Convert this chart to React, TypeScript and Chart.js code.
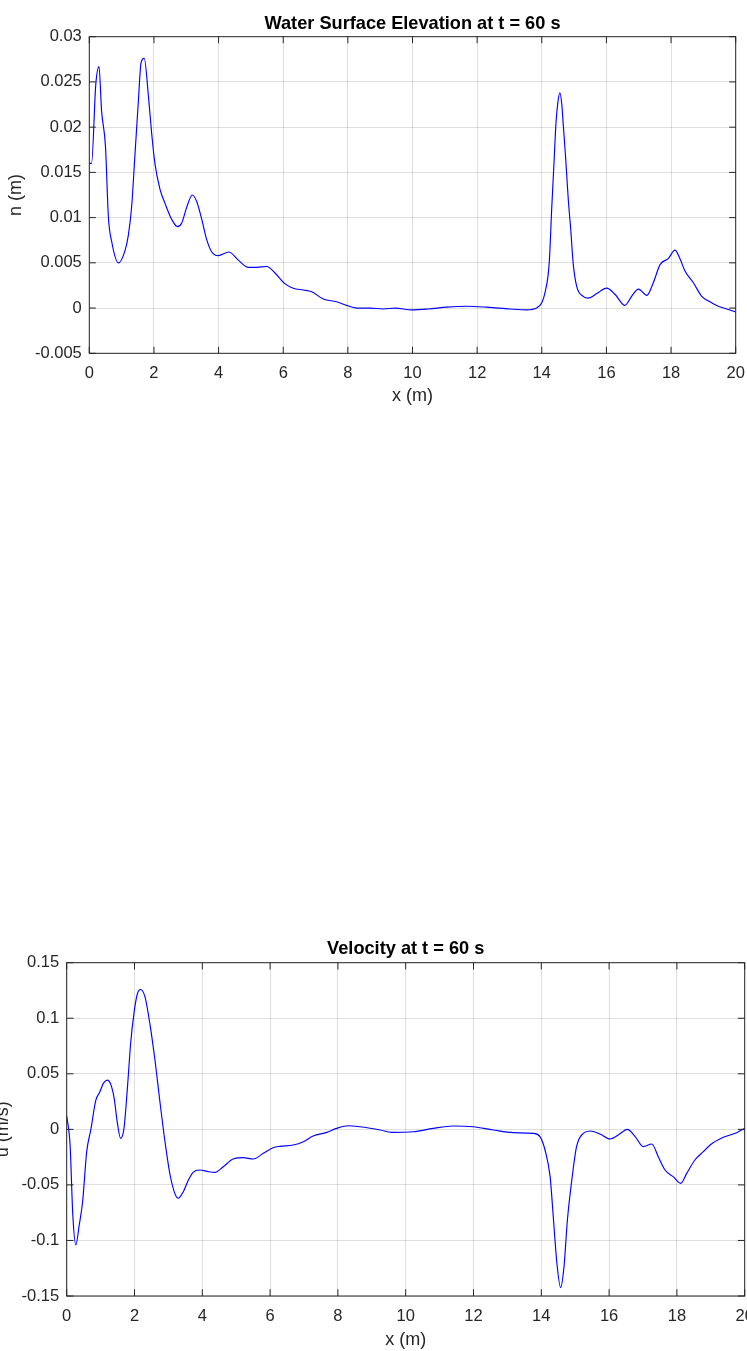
import React, { useEffect, useRef } from "react";
import { Chart, registerables } from "chart.js";

Chart.register(...registerables);

// ---------- data ----------
const X_TICKS = [0, 2, 4, 6, 8, 10, 12, 14, 16, 18, 20];
const ETA_Y_TICKS = [-0.005, 0, 0.005, 0.01, 0.015, 0.02, 0.025, 0.03];
const U_Y_TICKS = [-0.15, -0.1, -0.05, 0, 0.05, 0.1, 0.15];

const ETA_TITLE = "Water Surface Elevation at t = 60 s";
const U_TITLE = "Velocity at t = 60 s";
const X_LABEL = "x (m)";
const ETA_LABEL = "n (m)";
const U_LABEL = "u (m/s)";

const ETA_X = [
  0, 0.07, 0.2, 0.3, 0.38, 0.5, 0.59, 0.69, 0.9, 1.1, 1.21, 1.31, 1.41, 1.52, 1.6, 1.7,
  1.83, 1.93, 2.03, 2.19, 2.34, 2.55, 2.73, 2.86, 3.01, 3.19, 3.32, 3.48, 3.63, 3.79,
  3.99, 4.32, 4.61, 4.92, 5.18, 5.49, 5.74, 6.05, 6.31, 6.62, 6.88, 7.24, 7.65, 7.96,
  8.27, 8.69, 9.1, 9.46, 9.97, 10.49, 11.06, 11.68, 12.3, 13.02, 13.53, 13.84, 14.0,
  14.1, 14.23, 14.31, 14.38, 14.44, 14.5, 14.56, 14.62, 14.66, 14.74, 14.82, 14.9, 14.97,
  15.08, 15.28, 15.44, 15.7, 16.01, 16.27, 16.57, 16.78, 16.99, 17.25, 17.45, 17.66,
  17.92, 18.12, 18.27, 18.43, 18.69, 18.95, 19.2, 19.46, 19.72, 20,
];
const ETA_Y = [
  0.016, 0.016, 0.0247, 0.0267, 0.0218, 0.0179, 0.0101, 0.0074, 0.005, 0.0063, 0.0081,
  0.0112, 0.0168, 0.023, 0.0271, 0.0276, 0.0234, 0.0193, 0.016, 0.0131, 0.0116, 0.0098,
  0.009, 0.0094, 0.0111, 0.0125, 0.0118, 0.0098, 0.0076, 0.0062, 0.0058, 0.0062, 0.0053,
  0.0045, 0.0045, 0.0046, 0.0039, 0.0027, 0.0022, 0.002, 0.0018, 0.001, 0.0007, 0.0003,
  0.0, 0.0, -0.0001, 0.0, -0.0002, -0.0001, 0.0001, 0.0002, 0.0001, -0.0001, -0.0002,
  0.0, 0.0006, 0.0017, 0.005, 0.0112, 0.0162, 0.0205, 0.0228, 0.0238, 0.0225, 0.0205,
  0.0165, 0.012, 0.0085, 0.005, 0.0024, 0.0013, 0.0011, 0.0016, 0.0022, 0.0015, 0.0003,
  0.0013, 0.0021, 0.0014, 0.0028, 0.0048, 0.0055, 0.0064, 0.0055, 0.0041, 0.0028, 0.0013,
  0.0007, 0.0002, -0.0001, -0.00045,
];

const U_X = [
  0, 0.1, 0.18, 0.27, 0.37, 0.47, 0.59, 0.71, 0.86, 0.98, 1.08, 1.2, 1.3, 1.4, 1.49, 1.59,
  1.69, 1.79, 1.89, 1.99, 2.08, 2.18, 2.31, 2.46, 2.61, 2.75, 2.9, 3.05, 3.2, 3.29, 3.44,
  3.59, 3.73, 3.93, 4.18, 4.37, 4.62, 4.91, 5.21, 5.5, 5.8, 6.09, 6.29, 6.68, 6.98, 7.27,
  7.67, 7.96, 8.31, 8.65, 8.95, 9.25, 9.59, 10.22, 10.81, 11.4, 11.99, 12.58, 13.17,
  13.76, 13.96, 14.11, 14.26, 14.36, 14.46, 14.57, 14.67, 14.77, 14.9, 15.04, 15.24,
  15.44, 15.73, 16.03, 16.27, 16.54, 16.77, 17.01, 17.26, 17.45, 17.65, 17.89, 18.11,
  18.29, 18.53, 18.78, 18.98, 19.37, 19.76, 20,
];
const U_Y = [
  0.0122, -0.0141, -0.077, -0.104, -0.086, -0.065, -0.02, -0.0006, 0.0263, 0.0338, 0.0414,
  0.0443, 0.0405, 0.0279, 0.0068, -0.0081, 0.0009, 0.0369, 0.0788, 0.1058, 0.1214, 0.1259,
  0.1192, 0.0938, 0.0608, 0.0248, -0.0112, -0.0411, -0.0585, -0.062, -0.0561, -0.0456,
  -0.0387, -0.0366, -0.0381, -0.0387, -0.0336, -0.0267, -0.0255, -0.0267, -0.0216,
  -0.0165, -0.0153, -0.0141, -0.0111, -0.006, -0.0027, 0.0009, 0.0032, 0.0023, 0.001,
  -0.0006, -0.0027, -0.0022, 0.0009, 0.003, 0.0023, -0.0006, -0.003, -0.0036, -0.0066,
  -0.0186, -0.0426, -0.0816, -0.1205, -0.1424, -0.1236, -0.0816, -0.0456, -0.0156,
  -0.0036, -0.0015, -0.0042, -0.0087, -0.0051, 0.0, -0.0066, -0.0156, -0.0132, -0.0246,
  -0.0366, -0.0426, -0.0486, -0.0396, -0.0276, -0.0201, -0.0141, -0.0072, -0.003, 0.001,
];

// ---------- styling ----------
const FONT = '"Liberation Sans", Arial, Helvetica, sans-serif';
const AXIS_COLOR = "#262626";
const GRID_COLOR = "rgba(38,38,38,0.15)";
const LINE_COLOR = "#0000ff";

function fmt(v: number) {
  return String(parseFloat(Number(v).toFixed(6)));
}

function makeBoxPlugin(len: number) {
  return {
    id: "boxTicks",
    afterDraw(chart: any) {
      const { ctx, chartArea: a, scales } = chart;
      ctx.save();
      ctx.strokeStyle = AXIS_COLOR;
      ctx.lineWidth = 1;
      ctx.beginPath();
      scales.x.ticks.forEach((t: any) => {
        const px = scales.x.getPixelForValue(t.value);
        ctx.moveTo(px, a.bottom);
        ctx.lineTo(px, a.bottom - len);
        ctx.moveTo(px, a.top);
        ctx.lineTo(px, a.top + len);
      });
      scales.y.ticks.forEach((t: any) => {
        const py = scales.y.getPixelForValue(t.value);
        ctx.moveTo(a.left, py);
        ctx.lineTo(a.left + len, py);
        ctx.moveTo(a.right, py);
        ctx.lineTo(a.right - len, py);
      });
      ctx.stroke();
      ctx.strokeRect(a.left, a.top, a.right - a.left, a.bottom - a.top);
      ctx.restore();
    },
  };
}

type PlotProps = {
  left: number;
  top: number;
  width: number;
  height: number;
  xs: number[];
  ys: number[];
  yTicks: number[];
  title: string;
  yLabel: string;
  yAxisWidth: number;
  xAxisHeight: number;
  padRight: number;
  titlePadTop: number;
  titlePadBottom: number;
  yTitlePad: number;
  xTitlePadBottom: number;
  tickLen: number;
};

function Plot(p: PlotProps) {
  const ref = useRef<HTMLCanvasElement | null>(null);
  useEffect(() => {
    if (!ref.current) return;
    const data = p.xs.map((x, i) => ({ x, y: p.ys[i] }));
    const chart = new Chart(ref.current, {
      type: "line",
      data: {
        datasets: [
          {
            data,
            borderColor: LINE_COLOR,
            borderWidth: 1.15,
            pointRadius: 0,
            fill: false,
            cubicInterpolationMode: "monotone",
          },
        ],
      },
      options: {
        responsive: false,
        animation: false,
        devicePixelRatio: 1,
        layout: { padding: { left: 0, top: 0, right: p.padRight, bottom: 0 } },
        plugins: {
          legend: { display: false },
          tooltip: { enabled: false },
          title: {
            display: true,
            fullSize: false,
            text: p.title,
            color: "#000000",
            font: { family: FONT, size: 18.2, weight: "bold", lineHeight: 1.2 },
            padding: { top: p.titlePadTop, bottom: p.titlePadBottom },
          },
        },
        scales: {
          x: {
            type: "linear",
            min: X_TICKS[0],
            max: X_TICKS[X_TICKS.length - 1],
            afterBuildTicks: (s: any) => {
              s.ticks = X_TICKS.map((v) => ({ value: v }));
            },
            afterFit: (s: any) => {
              s.height = p.xAxisHeight;
            },
            ticks: {
              color: AXIS_COLOR,
              font: { family: FONT, size: 16.5, lineHeight: "40px" },
              padding: 0,
              maxRotation: 0,
              autoSkip: false,
              callback: (v: any) => fmt(v),
            },
            grid: { color: GRID_COLOR, lineWidth: 1, drawTicks: false },
            border: { display: false },
            title: {
              display: true,
              text: X_LABEL,
              color: AXIS_COLOR,
              font: { family: FONT, size: 18, lineHeight: 1.2 },
              padding: { top: 0, bottom: p.xTitlePadBottom },
            },
          },
          y: {
            type: "linear",
            min: p.yTicks[0],
            max: p.yTicks[p.yTicks.length - 1],
            afterBuildTicks: (s: any) => {
              s.ticks = p.yTicks.map((v) => ({ value: v }));
            },
            afterFit: (s: any) => {
              s.width = p.yAxisWidth;
            },
            ticks: {
              color: AXIS_COLOR,
              font: { family: FONT, size: 16.5, lineHeight: 1.2 },
              padding: 7.5,
              autoSkip: false,
              callback: (v: any) => fmt(v),
            },
            grid: { color: GRID_COLOR, lineWidth: 1, drawTicks: false },
            border: { display: false },
            title: {
              display: true,
              text: p.yLabel,
              color: AXIS_COLOR,
              font: { family: FONT, size: 18, lineHeight: 1.2 },
              padding: { top: p.yTitlePad, bottom: 0 },
            },
          },
        },
      },
      plugins: [makeBoxPlugin(p.tickLen)],
    } as any);
    return () => chart.destroy();
  }, []);
  return (
    <canvas
      ref={ref}
      width={p.width}
      height={p.height}
      style={{
        position: "absolute",
        left: p.left,
        top: p.top,
        width: p.width,
        height: p.height,
      }}
    />
  );
}

export default function App() {
  return (
    <div
      style={{
        position: "absolute",
        left: 0,
        top: 0,
        width: 747,
        height: 1351,
        overflow: "hidden",
        background: "#ffffff",
      }}
    >
      <Plot
        left={0}
        top={0}
        width={747}
        height={420}
        xs={ETA_X}
        ys={ETA_Y}
        yTicks={ETA_Y_TICKS}
        title={ETA_TITLE}
        yLabel={ETA_LABEL}
        yAxisWidth={89.3}
        xAxisHeight={66.7}
        padRight={11.3}
        titlePadTop={12.6}
        titlePadBottom={2.26}
        yTitlePad={5.2}
        xTitlePadBottom={12.7}
        tickLen={6.5}
      />
      <Plot
        left={-20}
        top={920}
        width={780}
        height={460}
        xs={U_X}
        ys={U_Y}
        yTicks={U_Y_TICKS}
        title={U_TITLE}
        yLabel={U_LABEL}
        yAxisWidth={86.7}
        xAxisHeight={84}
        padRight={15.3}
        titlePadTop={18.2}
        titlePadBottom={2.66}
        yTitlePad={12.5}
        xTitlePadBottom={29.2}
        tickLen={6.8}
      />
    </div>
  );
}
